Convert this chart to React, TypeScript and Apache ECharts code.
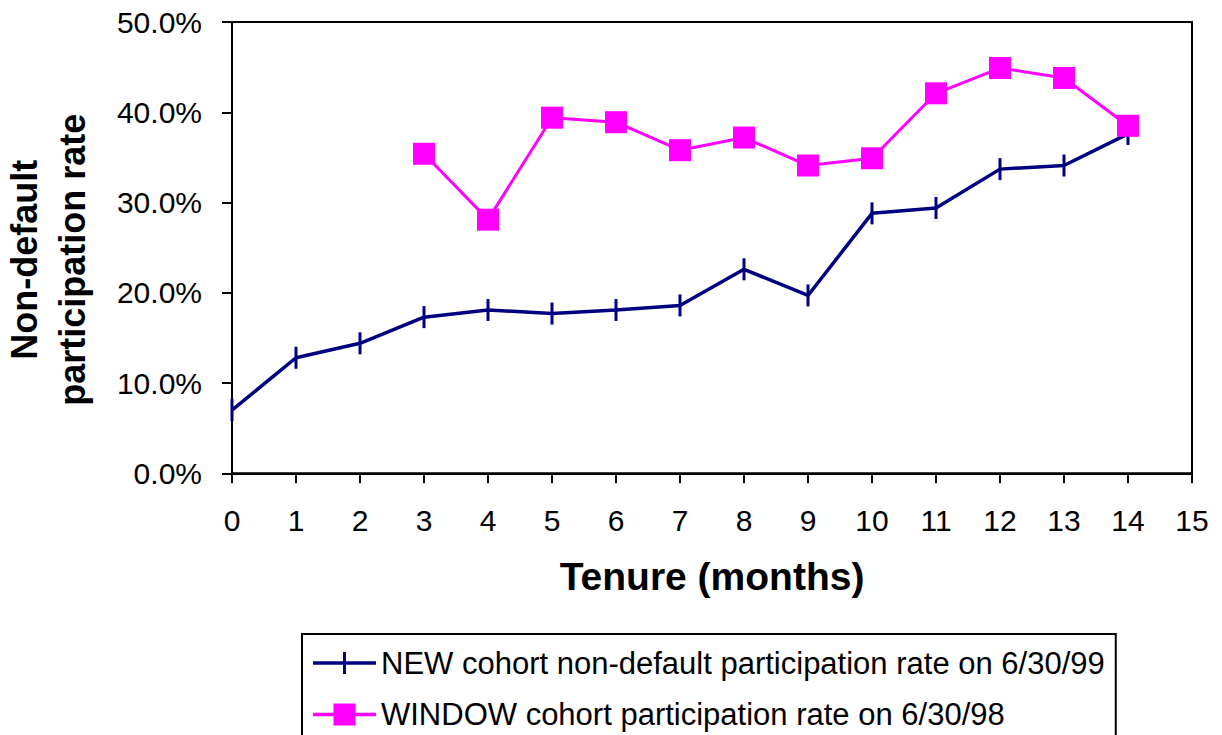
import React, { useEffect, useRef } from "react";
import * as echarts from "echarts";

const tenure = [0, 1, 2, 3, 4, 5, 6, 7, 8, 9, 10, 11, 12, 13, 14];
const newCohort = [7.0, 12.8, 14.4, 17.3, 18.1, 17.7, 18.1, 18.6, 22.6, 19.7, 28.8, 29.4, 33.7, 34.1, 37.6];
const windowTenure = [3, 4, 5, 6, 7, 8, 9, 10, 11, 12, 13, 14];
const windowCohort = [35.4, 28.1, 39.4, 38.9, 35.8, 37.2, 34.1, 34.9, 42.1, 44.9, 43.8, 38.5];
const seriesNames = [
  "NEW cohort non-default participation rate on 6/30/99",
  "WINDOW cohort participation rate on 6/30/98",
];
const xTitle = "Tenure (months)";
const yTitle = "Non-default\nparticipation rate";

const FONT = "'Liberation Sans', Arial, Helvetica, sans-serif";
const NAVY = "#000080";
const MAGENTA = "#ff00ff";

export default function App() {
  const ref = useRef<HTMLDivElement>(null);
  useEffect(() => {
    document.body.style.margin = "0";
    const chart = echarts.init(ref.current!, null, { renderer: "svg" });
    chart.setOption({
      animation: false,
      backgroundColor: "#ffffff",
      textStyle: { fontFamily: FONT, color: "#000" },
      grid: {
        left: 232,
        top: 22,
        width: 960,
        height: 451.3,
        show: true,
        borderColor: "#000",
        borderWidth: 2,
        backgroundColor: "#fff",
        containLabel: false,
        outerBoundsMode: "none",
      },
      xAxis: {
        type: "value",
        min: 0,
        max: 15,
        interval: 1,
        name: xTitle,
        nameLocation: "middle",
        nameGap: 84,
        nameTextStyle: { fontFamily: FONT, fontSize: 39, fontWeight: "bold", color: "#000" },
        axisLine: { show: true, onZero: false, lineStyle: { color: "#000", width: 2 } },
        axisTick: { show: true, inside: false, length: 10, lineStyle: { color: "#000", width: 2 } },
        axisLabel: { fontFamily: FONT, fontSize: 30, color: "#000", margin: 32 },
        splitLine: { show: false },
      },
      yAxis: {
        type: "value",
        min: 0,
        max: 50,
        interval: 10,
        name: yTitle,
        nameLocation: "middle",
        nameRotate: 90,
        nameGap: 136,
        nameTextStyle: {
          fontFamily: FONT,
          fontSize: 36,
          fontWeight: "bold",
          color: "#000",
          lineHeight: 48,
          padding: [0, 24, 0, 0],
        },
        axisLine: { show: true, lineStyle: { color: "#000", width: 2 } },
        axisTick: { show: true, inside: false, length: 10, lineStyle: { color: "#000", width: 2 } },
        axisLabel: {
          fontFamily: FONT,
          fontSize: 30,
          color: "#000",
          margin: 30,
          formatter: (v: number) => v.toFixed(1) + "%",
        },
        splitLine: { show: false },
      },
      legend: {
        orient: "vertical",
        left: 302,
        top: 634,
        height: 200,
        padding: [13.5, 11, 30, 11],
        itemGap: 20.6,
        itemWidth: 63,
        itemHeight: 22,
        borderColor: "#000",
        borderWidth: 2,
        backgroundColor: "#fff",
        textStyle: { fontFamily: FONT, fontSize: 31, lineHeight: 27, color: "#000" },
        data: [
          {
            name: seriesNames[0],
            icon: "path://M0,9.25h63v3.5h-63z M30,0h3v22h-3z",
          },
          {
            name: seriesNames[1],
            icon: "path://M0,9.25h63v3.5h-63z M20.5,0h22v22h-22z",
          },
        ],
      },
      series: [
        {
          name: seriesNames[0],
          type: "line",
          data: tenure.map((t, i) => [t, newCohort[i]]),
          color: NAVY,
          lineStyle: { color: NAVY, width: 3.5 },
          itemStyle: { color: NAVY, opacity: 1 },
          symbol: "rect",
          symbolSize: [3, 22],
          z: 2,
        },
        {
          name: seriesNames[1],
          type: "line",
          data: windowTenure.map((t, i) => [t, windowCohort[i]]),
          color: MAGENTA,
          lineStyle: { color: MAGENTA, width: 3 },
          itemStyle: { color: MAGENTA },
          symbol: "rect",
          symbolSize: 22,
          z: 3,
        },
      ],
    });
    return () => chart.dispose();
  }, []);
  return <div ref={ref} style={{ width: 1222, height: 735 }} />;
}
